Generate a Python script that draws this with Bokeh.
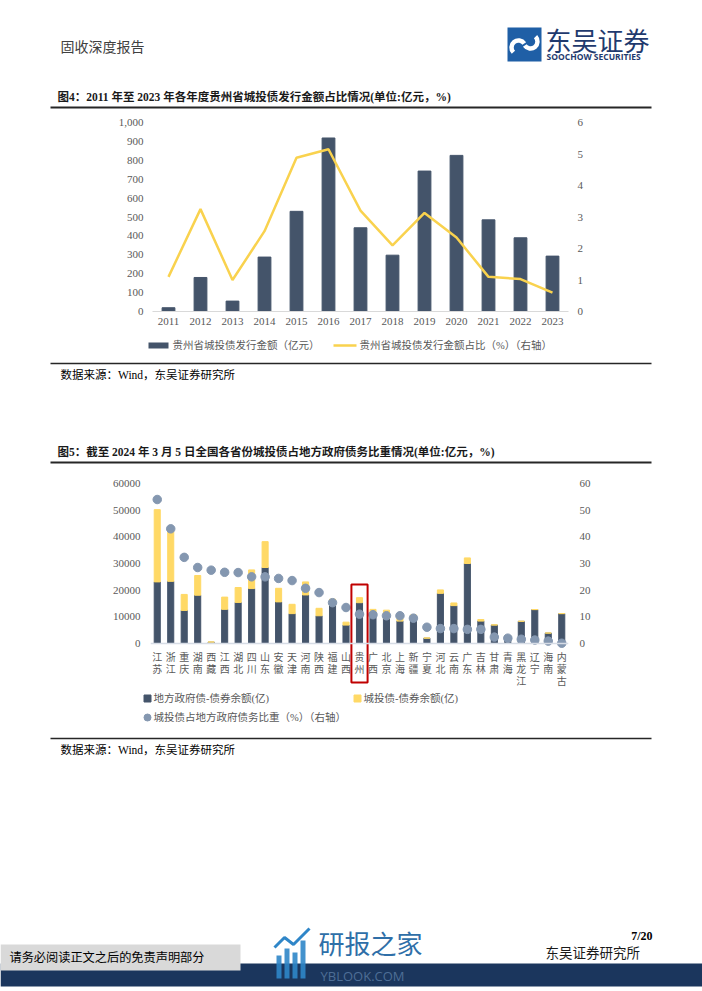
from bokeh.plotting import figure
from bokeh.models import Range1d, FactorRange, LinearAxis, FixedTicker, NumeralTickFormatter, Span
from bokeh.layouts import column
from bokeh.embed import file_html
from bokeh.resources import INLINE
from bokeh.core.properties import value

# ---------------- data ----------------
years = ["2011", "2012", "2013", "2014", "2015", "2016", "2017", "2018", "2019", "2020", "2021", "2022", "2023"]
issue_amount = [20, 180, 55, 288, 530, 918, 443, 298, 743, 826, 485, 390, 293]          # 亿元
issue_share = [1.1, 3.25, 1.0, 2.55, 4.88, 5.15, 3.2, 2.1, 3.13, 2.35, 1.1, 1.03, 0.6]   # %
left_ticks1 = [0, 100, 200, 300, 400, 500, 600, 700, 800, 900, 1000]
right_ticks1 = [0, 1, 2, 3, 4, 5, 6]

provinces = ["江苏", "浙江", "重庆", "湖南", "西藏", "江西", "湖北", "四川", "山东", "安徽", "天津",
             "河南", "陕西", "福建", "山西", "贵州", "广西", "北京", "上海", "新疆", "宁夏", "河北",
             "云南", "广东", "吉林", "甘肃", "青海", "黑龙江", "辽宁", "海南", "内蒙古"]
local_gov = [23100, 23300, 12400, 18100, 500, 12800, 15400, 20600, 28500, 15600, 11200,
             18200, 10400, 14300, 6900, 15300, 11500, 9300, 8400, 9300, 2000, 18800,
             14200, 30000, 8400, 6900, 2800, 8300, 12700, 3900, 11200]
chengtou = [27100, 18700, 6000, 7400, 100, 4600, 5600, 7000, 9700, 5100, 3500,
            4900, 2800, 2300, 1100, 1900, 1300, 3200, 1000, 1400, 100, 1300,
            1000, 2100, 600, 100, 100, 60, 40, 30, 20]
ratio = [54.0, 43.0, 32.3, 28.5, 27.5, 26.7, 26.6, 25.0, 25.0, 24.4, 23.6,
         20.7, 19.1, 15.3, 13.5, 11.0, 10.8, 10.4, 10.4, 9.5, 6.1, 5.6,
         5.6, 5.3, 5.3, 2.4, 2.0, 1.6, 1.3, 0.9, 0.1]
left_ticks2 = [0, 10000, 20000, 30000, 40000, 50000, 60000]
right_ticks2 = [0, 10, 20, 30, 40, 50, 60]
highlight = "贵州"

# ---------------- styles ----------------
SERIF = "'Liberation Serif', 'Noto Sans CJK SC'"
CJK = "'Noto Sans CJK SC'"
NAVY_BAR = "#44546A"
YELLOW_LINE = "#F9D24E"
YELLOW_BAR = "#FFD966"
DOT = "#8497B0"
TICK_COLOR = "#595959"
W = 702


def deco(top, bottom):
    p = figure(width=W, height=bottom - top, x_range=Range1d(0, W), y_range=Range1d(bottom, top),
               toolbar_location=None, output_backend="svg", min_border=0, frame_align=False,
               x_axis_location=None, y_axis_location=None)
    p.grid.visible = False
    p.outline_line_color = None
    p.background_fill_color = "white"
    p.border_fill_color = "white"
    return p


def txt(p, x, y, s, size, color="#000000", font=SERIF, bold=False, align="left"):
    p.text(x=[x], y=[y], text=[s], text_font=value(font), text_font_size=f"{size}px",
           text_color=color, text_baseline="middle", text_align=align,
           text_font_style="bold" if bold else "normal")


def hline(p, y, width, color="#262626"):
    p.segment(x0=[50], y0=[y], x1=[651], y1=[y], line_color=color, line_width=width)


def style_axis(ax, standoff, size="11px"):
    ax.axis_line_color = None
    ax.major_tick_line_color = None
    ax.minor_tick_line_color = None
    ax.major_tick_out = 0
    ax.major_tick_in = 0
    ax.minor_tick_out = 0
    ax.major_label_standoff = standoff
    ax.major_label_text_font = SERIF
    ax.major_label_text_font_size = size
    ax.major_label_text_color = TICK_COLOR


# ---------------- header (page y 0..112) ----------------
hdr = deco(0, 112)
txt(hdr, 60, 47, "固收深度报告", 14, color="#404040")
# logo
hdr.quad(left=[507], right=[541], top=[27], bottom=[61], fill_color="#1F5FA6", line_color=None)
hdr.arc(x=[518], y=[47], radius=7, start_angle=0.6, end_angle=3.9, line_color="white", line_width=4.5)
hdr.arc(x=[530], y=[41], radius=7, start_angle=3.75, end_angle=7.05, line_color="white", line_width=4.5)
txt(hdr, 545, 39, "东吴证券", 26, color="#1F3A6E", font=CJK)
txt(hdr, 546, 56, "SOOCHOW SECURITIES", 8.5, color="#1F3A6E", font="Open Sans", bold=True)
txt(hdr, 57, 96, "图4：2011 年至 2023 年各年度贵州省城投债发行金额占比情况(单位:亿元，%)", 11.5,
    color="#1a1a1a", bold=True)
hline(hdr, 107, 2)

# ---------------- chart 1 (page y 112..335) ----------------
p1 = figure(width=W, height=223, x_range=FactorRange(factors=years), y_range=Range1d(0, 1000),
            toolbar_location=None, output_backend="svg", frame_align=False,
            min_border_left=152, min_border_right=134, min_border_top=10, min_border_bottom=24)
p1.extra_y_ranges = {"pct": Range1d(0, 6)}
p1.vbar(x=years, top=issue_amount, width=0.4, color=NAVY_BAR)
p1.line(x=years, y=issue_share, y_range_name="pct", line_color=YELLOW_LINE, line_width=2.5)
p1.add_layout(LinearAxis(y_range_name="pct", ticker=FixedTicker(ticks=right_ticks1)), "right")
p1.yaxis[0].ticker = FixedTicker(ticks=left_ticks1)
p1.yaxis[0].formatter = NumeralTickFormatter(format="0,0")
style_axis(p1.yaxis[0], 9)
style_axis(p1.yaxis[1], 9)
style_axis(p1.xaxis[0], 6)
p1.xaxis[0].axis_line_color = "#D9D9D9"
p1.xaxis[0].axis_line_width = 1
p1.grid.visible = False
p1.outline_line_color = None

# ---------------- middle (page y 335..470) ----------------
mid = deco(335, 470)
mid.quad(left=[148], right=[168], top=[342], bottom=[348], fill_color=NAVY_BAR, line_color=None)
txt(mid, 172, 345, "贵州省城投债发行金额（亿元）", 10.5, color=TICK_COLOR)
mid.segment(x0=[333], y0=[345], x1=[356], y1=[345], line_color=YELLOW_LINE, line_width=2.5)
txt(mid, 359, 345, "贵州省城投债发行金额占比（%）（右轴）", 10.5, color=TICK_COLOR)
hline(mid, 363, 1.5)
txt(mid, 60, 374, "数据来源：Wind，东吴证券研究所", 11.5, color="#000000")
txt(mid, 57, 451, "图5：截至 2024 年 3 月 5 日全国各省份城投债占地方政府债务比重情况(单位:亿元，%)", 11.5,
    color="#1a1a1a", bold=True)
hline(mid, 462, 2)

# ---------------- chart 2 (page y 470..690) ----------------
PX = 375.0  # value units per pixel on left axis (layout constant)
y_lo = -43 * PX
p2 = figure(width=W, height=220, x_range=FactorRange(factors=provinces), y_range=Range1d(y_lo, 60000),
            toolbar_location=None, output_backend="svg", x_axis_location=None, frame_align=False,
            min_border_left=150, min_border_right=134, min_border_top=13, min_border_bottom=4)
p2.extra_y_ranges = {"pct": Range1d(y_lo / 1000.0, 60)}
src = dict(prov=provinces, local=local_gov, ct=chengtou, ratio=ratio)
p2.vbar_stack(["local", "ct"], x="prov", width=0.45, color=[NAVY_BAR, YELLOW_BAR], source=src)
p2.add_layout(Span(location=0, dimension="width", line_color="#D6DCE5", line_width=1.5))
p2.scatter(x="prov", y="ratio", y_range_name="pct", size=8.5, color=DOT, source=src)
p2.text(x=provinces, y=[-8 * PX] * len(provinces), text=["\n".join(s) for s in provinces],
        text_font=value(SERIF), text_font_size="10px", text_color=TICK_COLOR,
        text_align="center", text_baseline="top", text_line_height=1.1)
rect_top, rect_bottom = 59 * PX, -39 * PX
p2.rect(x=[highlight], y=[(rect_top + rect_bottom) / 2], width=1.2, height=rect_top - rect_bottom,
        fill_color=None, line_color="#C00000", line_width=2)
p2.add_layout(LinearAxis(y_range_name="pct", ticker=FixedTicker(ticks=right_ticks2)), "right")
p2.yaxis[0].ticker = FixedTicker(ticks=left_ticks2)
style_axis(p2.yaxis[0], 10)
style_axis(p2.yaxis[1], 11)
p2.grid.visible = False
p2.outline_line_color = None

# ---------------- footer (page y 690..991) ----------------
ftr = deco(690, 991)
ftr.scatter(x=[147], y=[698], marker="square", size=7, color=NAVY_BAR)
txt(ftr, 153, 698, "地方政府债-债券余额(亿)", 10.5, color=TICK_COLOR)
ftr.scatter(x=[357], y=[698], marker="square", size=7, color=YELLOW_BAR)
txt(ftr, 363, 698, "城投债-债券余额(亿)", 10.5, color=TICK_COLOR)
ftr.scatter(x=[147], y=[717], marker="circle", size=7, color=DOT)
txt(ftr, 153, 717, "城投债占地方政府债务比重（%）（右轴）", 10.5, color=TICK_COLOR)
hline(ftr, 738, 1.5)
txt(ftr, 60, 749, "数据来源：Wind，东吴证券研究所", 11.5, color="#000000")
txt(ftr, 652, 935, "7/20", 12, color="#000000", bold=True, align="right")
txt(ftr, 545, 953, "东吴证券研究所", 13.5, color="#1a1a1a")
ftr.quad(left=[0], right=[702], top=[963], bottom=[986], fill_color="#1B365D", line_color=None)
ftr.quad(left=[0], right=[240], top=[944], bottom=[970], fill_color="#D9D9D9", line_color=None)
txt(ftr, 9, 957, "请务必阅读正文之后的免责声明部分", 12.2, color="#000000")
# watermark
ftr.quad(left=[276, 284, 292, 300], right=[281, 289, 297, 305], top=[955, 948, 952, 940],
         bottom=[978, 978, 978, 978], fill_color="#2F86C8", line_color=None, fill_alpha=0.9)
ftr.line(x=[274, 284, 293, 309], y=[947, 937, 944, 928], line_color="#2F86C8", line_width=3)
txt(ftr, 318, 942, "研报之家", 26, color="#2F6FA8", font=CJK)
txt(ftr, 320, 975, "YBLOOK.COM", 13, color="#4E6E96", font="Open Sans")

layout = column(hdr, p1, mid, p2, ftr, spacing=0)
open("out.html", "w").write(file_html(layout, INLINE))
